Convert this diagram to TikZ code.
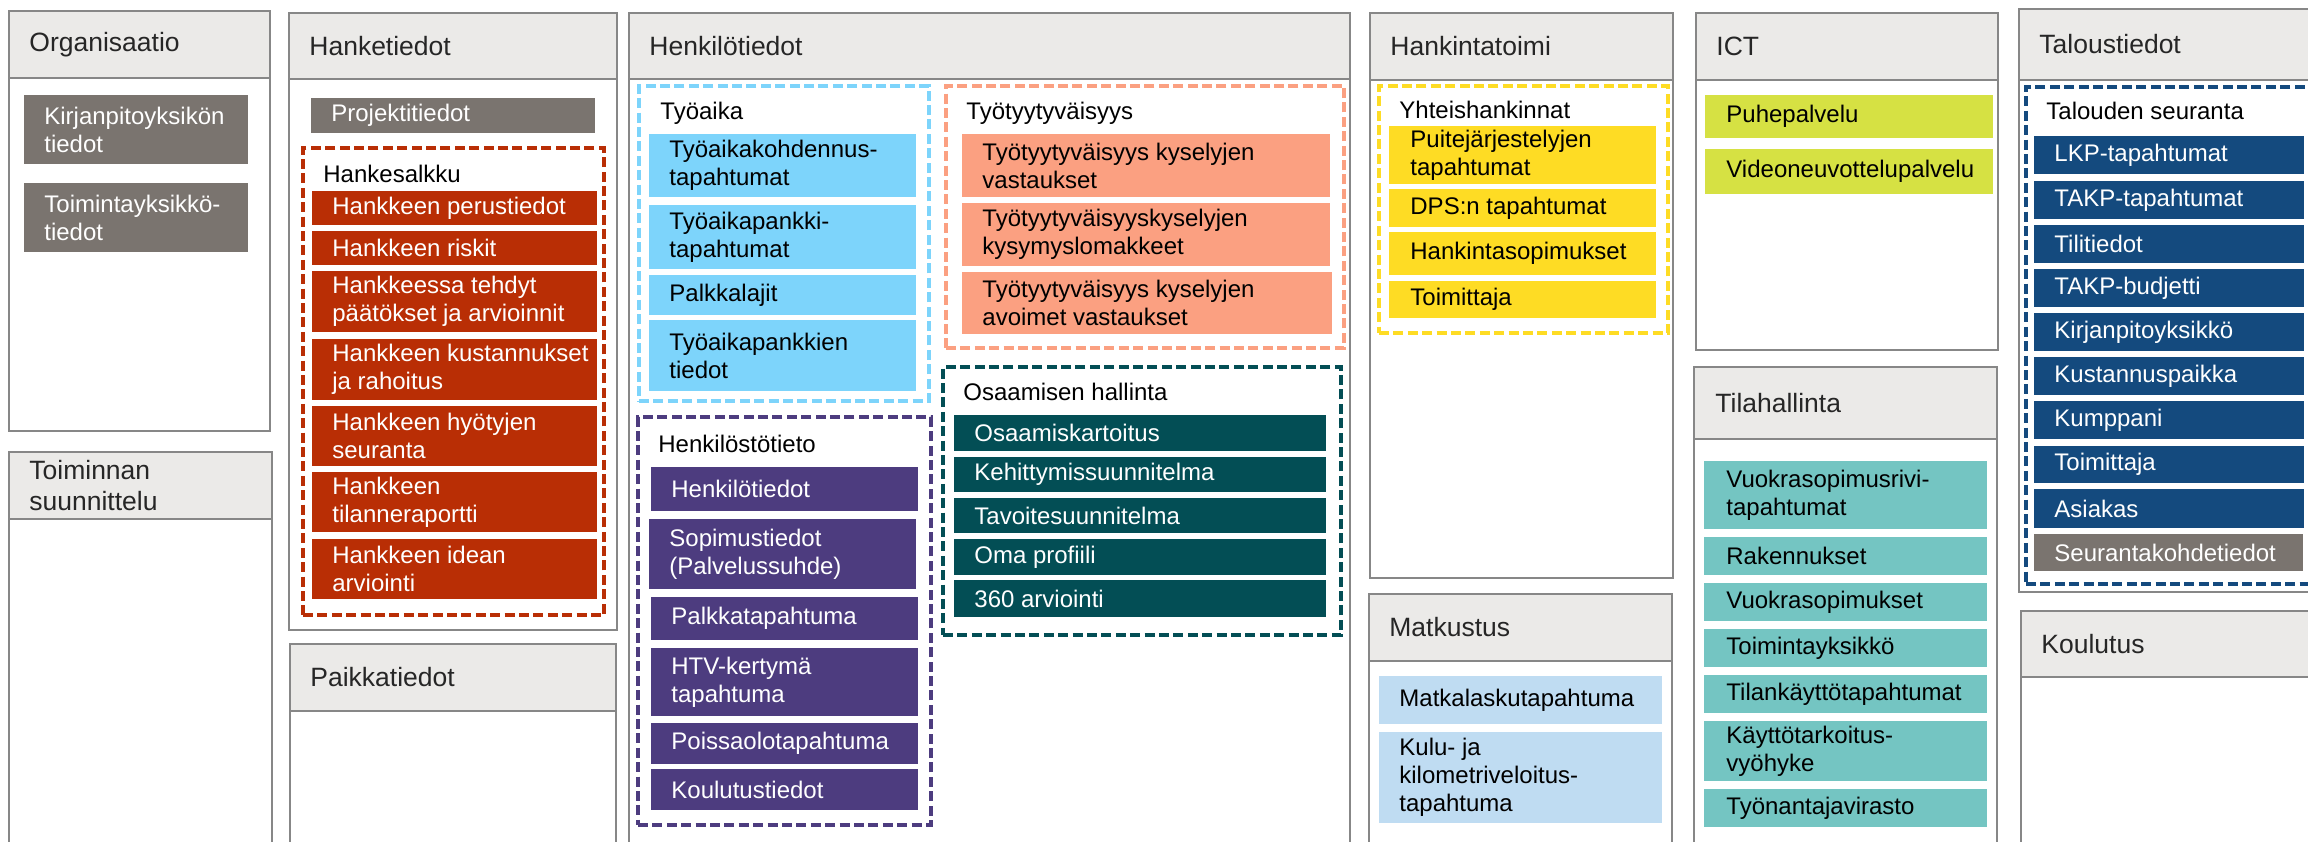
\documentclass[tikz,border=0pt]{standalone}
\usepackage{fontspec}
\setmainfont{Liberation Sans}

\definecolor{bordergrey}{HTML}{878787}
\definecolor{hdrfill}{HTML}{EBEAE8}
\definecolor{hdrtext}{HTML}{262626}
\definecolor{cgrey}{HTML}{7A746F}
\definecolor{cred}{HTML}{B92E05}
\definecolor{clblue}{HTML}{7DD4FB}
\definecolor{csalmon}{HTML}{FBA081}
\definecolor{cdteal}{HTML}{034E55}
\definecolor{cpurple}{HTML}{4D3C7F}
\definecolor{cyellow}{HTML}{FEDC24}
\definecolor{clime}{HTML}{D6E143}
\definecolor{clteal}{HTML}{74C5C2}
\definecolor{cpblue}{HTML}{BFDCF2}
\definecolor{cnavy}{HTML}{144A7E}

\tikzset{
  cR/.style={font=\fontsize{12}{14}\selectfont},
  hR/.style={font=\fontsize{13.25}{15.5}\selectfont, text=hdrtext},
  pbody/.style={draw=bordergrey, line width=1.3pt, fill=white},
  phead/.style={draw=bordergrey, line width=1.3pt, fill=hdrfill},
  grp/.style={draw=#1, line width=1.7pt, dash pattern=on 5pt off 2.2pt},
  wt/.style={text=white},
  bt/.style={text=black},
  lbl/.style={anchor=base west, inner sep=0pt, text=black, font=\fontsize{12}{14}\selectfont},
}

\def\insx{10}
\newcommand\myrect[6]{%
  \pgfmathsetmacro\bw{(#4-#2)*0.5}%
  \pgfmathsetmacro\bh{(#5-#3)*0.5}%
  \node[anchor=north west, outer sep=0pt, inner sep=0pt, minimum width=\bw pt, minimum height=\bh pt, #6] (#1) at (#2,#3) {};}
\newcommand\mybox[8]{%
  \myrect{#1}{#2}{#3}{#4}{#5}{#6}%
  \node[anchor=west, inner sep=0pt, align=left, #7] (#1t) at ([xshift=\insx pt]#1.west) {#8};}

\begin{document}
\begin{tikzpicture}[x=0.5pt,y=-0.5pt]
\useasboundingbox (0,0) rectangle (2308,841);
\clip (0,0) rectangle (2308,841);

% ---------------- column 1: Organisaatio / Toiminnan suunnittelu
\def\insx{10}
\myrect{orgB}{9}{11}{270}{431}{pbody}
\mybox{org}{9}{11}{270}{78}{phead}{hR}{Organisaatio}
\mybox{kirj}{24}{95}{248}{164}{fill=cgrey}{cR,wt}{Kirjanpitoyksikön\\tiedot}
\mybox{toim}{24}{183}{248}{252}{fill=cgrey}{cR,wt}{Toimintayksikkö-\\tiedot}
\myrect{tsuB}{9}{452}{272}{880}{pbody}
\mybox{tsu}{9}{452}{272}{519}{phead}{hR}{Toiminnan\\suunnittelu}

% ---------------- column 2: Hanketiedot / Paikkatiedot
\myrect{hanB}{289}{13}{617}{630}{pbody}
\mybox{han}{289}{13}{617}{79}{phead}{hR}{Hanketiedot}
\mybox{proj}{311}{98}{595}{133}{fill=cgrey}{cR,wt}{Projektitiedot}
\myrect{hsG}{303}{148}{604}{615}{grp=cred}
\node[lbl] (hsL) at (323,182) {Hankesalkku};
\mybox{r1}{312}{191}{597}{225}{fill=cred}{cR,wt}{Hankkeen perustiedot}
\mybox{r2}{312}{231}{597}{265}{fill=cred}{cR,wt}{Hankkeen riskit}
\mybox{r3}{312}{271}{597}{332}{fill=cred}{cR,wt}{Hankkeessa tehdyt\\päätökset ja arvioinnit}
\mybox{r4}{312}{339}{597}{400}{fill=cred}{cR,wt}{Hankkeen kustannukset\\ja rahoitus}
\mybox{r5}{312}{406}{597}{466}{fill=cred}{cR,wt}{Hankkeen hyötyjen\\seuranta}
\mybox{r6}{312}{472}{597}{532}{fill=cred}{cR,wt}{Hankkeen\\tilanneraportti}
\mybox{r7}{312}{539}{597}{599}{fill=cred}{cR,wt}{Hankkeen idean\\arviointi}
\myrect{paiB}{290}{644}{616}{880}{pbody}
\mybox{pai}{290}{644}{616}{711}{phead}{hR}{Paikkatiedot}

% ---------------- column 3: Henkilötiedot
\myrect{henB}{629}{13}{1350}{880}{pbody}
\mybox{hen}{629}{13}{1350}{79}{phead}{hR}{Henkilötiedot}
\myrect{taG}{639}{86}{929}{401}{grp=clblue}
\node[lbl] (taL) at (660,119) {Työaika};
\mybox{b1}{649}{134}{916}{197}{fill=clblue}{cR,bt}{Työaikakohdennus-\\tapahtumat}
\mybox{b2}{649}{205}{916}{269}{fill=clblue}{cR,bt}{Työaikapankki-\\tapahtumat}
\mybox{b3}{649}{275}{916}{315}{fill=clblue}{cR,bt}{Palkkalajit}
\mybox{b4}{649}{320}{916}{391}{fill=clblue}{cR,bt}{Työaikapankkien\\tiedot}
\myrect{tyG}{946}{86}{1344}{348}{grp=csalmon}
\node[lbl] (tyL) at (966,119) {Työtyytyväisyys};
\mybox{s1}{962}{134}{1330}{197}{fill=csalmon}{cR,bt}{Työtyytyväisyys kyselyjen\\vastaukset}
\mybox{s2}{962}{203}{1330}{266}{fill=csalmon}{cR,bt}{Työtyytyväisyyskyselyjen\\kysymyslomakkeet}
\mybox{s3}{962}{272}{1332}{334}{fill=csalmon}{cR,bt}{Työtyytyväisyys kyselyjen\\avoimet vastaukset}
\myrect{osG}{943}{367}{1341}{635}{grp=cdteal}
\node[lbl] (osL) at (963,400) {Osaamisen hallinta};
\mybox{t1}{954}{415}{1326}{451}{fill=cdteal}{cR,wt}{Osaamiskartoitus}
\mybox{t2}{954}{457}{1326}{492}{fill=cdteal}{cR,wt}{Kehittymissuunnitelma}
\mybox{t3}{954}{498}{1326}{533}{fill=cdteal}{cR,wt}{Tavoitesuunnitelma}
\mybox{t4}{954}{539}{1326}{575}{fill=cdteal}{cR,wt}{Oma profiili}
\mybox{t5}{954}{580}{1326}{617}{fill=cdteal}{cR,wt}{360 arviointi}
\myrect{hsG2}{638}{417}{931}{825}{grp=cpurple}
\node[lbl] (hkL) at (658,452) {Henkilöstötieto};
\mybox{p1}{651}{467}{918}{511}{fill=cpurple}{cR,wt}{Henkilötiedot}
\mybox{p2}{649}{519}{916}{589}{fill=cpurple}{cR,wt}{Sopimustiedot\\(Palvelussuhde)}
\mybox{p3}{651}{597}{918}{640}{fill=cpurple}{cR,wt}{Palkkatapahtuma}
\mybox{p4}{651}{648}{918}{716}{fill=cpurple}{cR,wt}{HTV-kertymä\\tapahtuma}
\mybox{p5}{651}{723}{918}{764}{fill=cpurple}{cR,wt}{Poissaolotapahtuma}
\mybox{p6}{651}{769}{918}{810}{fill=cpurple}{cR,wt}{Koulutustiedot}

% ---------------- column 4: Hankintatoimi / Matkustus
\myrect{hkB}{1370}{13}{1673}{578}{pbody}
\mybox{hk}{1370}{13}{1673}{80}{phead}{hR}{Hankintatoimi}
\myrect{yhG}{1379}{86}{1668}{333}{grp=cyellow}
\node[lbl] (yhL) at (1399,118) {Yhteishankinnat};
\def\insx{10.5}
\mybox{y1}{1389}{126}{1656}{184}{fill=cyellow}{cR,bt}{Puitejärjestelyjen\\tapahtumat}
\mybox{y2}{1389}{189}{1656}{227}{fill=cyellow}{cR,bt}{DPS:n tapahtumat}
\mybox{y3}{1389}{232}{1656}{275}{fill=cyellow}{cR,bt}{Hankintasopimukset}
\mybox{y4}{1389}{281}{1656}{318}{fill=cyellow}{cR,bt}{Toimittaja}
\def\insx{10}
\myrect{maB}{1369}{594}{1672}{880}{pbody}
\mybox{ma}{1369}{594}{1672}{661}{phead}{hR}{Matkustus}
\mybox{m1}{1379}{676}{1662}{724}{fill=cpblue}{cR,bt}{Matkalaskutapahtuma}
\mybox{m2}{1379}{732}{1662}{823}{fill=cpblue}{cR,bt}{Kulu- ja\\kilometriveloitus-\\tapahtuma}

% ---------------- column 5: ICT / Tilahallinta
\myrect{ictB}{1696}{13}{1998}{350}{pbody}
\mybox{ict}{1696}{13}{1998}{80}{phead}{hR}{ICT}
\def\insx{10.5}
\mybox{g1}{1705}{95}{1993}{138}{fill=clime}{cR,bt}{Puhepalvelu}
\mybox{g2}{1705}{149}{1993}{194}{fill=clime}{cR,bt}{Videoneuvottelupalvelu}
\myrect{tlB}{1694}{367}{1997}{880}{pbody}
\mybox{tl}{1694}{367}{1997}{439}{phead}{hR}{Tilahallinta}
\def\insx{11}
\mybox{q1}{1704}{461}{1987}{529}{fill=clteal}{cR,bt}{Vuokrasopimusrivi-\\tapahtumat}
\mybox{q2}{1704}{537}{1987}{575}{fill=clteal}{cR,bt}{Rakennukset}
\mybox{q3}{1704}{583}{1987}{621}{fill=clteal}{cR,bt}{Vuokrasopimukset}
\mybox{q4}{1704}{629}{1987}{667}{fill=clteal}{cR,bt}{Toimintayksikkö}
\mybox{q5}{1704}{675}{1987}{713}{fill=clteal}{cR,bt}{Tilankäyttötapahtumat}
\mybox{q6}{1704}{721}{1987}{781}{fill=clteal}{cR,bt}{Käyttötarkoitus-\\vyöhyke}
\mybox{q7}{1704}{789}{1987}{827}{fill=clteal}{cR,bt}{Työnantajavirasto}

% ---------------- column 6: Taloustiedot / Koulutus
\def\insx{10}
\myrect{taloB}{2019}{9}{2330}{592}{pbody}
\mybox{talo}{2019}{9}{2330}{80}{phead}{hR}{Taloustiedot}
\myrect{tsG}{2026}{87}{2320}{584}{grp=cnavy}
\node[lbl] (tsL) at (2046,119) {Talouden seuranta};
\mybox{n1}{2034}{136}{2304}{174}{fill=cnavy}{cR,wt}{LKP-tapahtumat}
\mybox{n2}{2034}{181}{2304}{219}{fill=cnavy}{cR,wt}{TAKP-tapahtumat}
\mybox{n3}{2034}{225}{2304}{263}{fill=cnavy}{cR,wt}{Tilitiedot}
\mybox{n4}{2034}{269}{2304}{307}{fill=cnavy}{cR,wt}{TAKP-budjetti}
\mybox{n5}{2034}{313}{2304}{351}{fill=cnavy}{cR,wt}{Kirjanpitoyksikkö}
\mybox{n6}{2034}{357}{2304}{395}{fill=cnavy}{cR,wt}{Kustannuspaikka}
\mybox{n7}{2034}{401}{2304}{439}{fill=cnavy}{cR,wt}{Kumppani}
\mybox{n8}{2034}{446}{2304}{483}{fill=cnavy}{cR,wt}{Toimittaja}
\mybox{n9}{2034}{489}{2304}{528}{fill=cnavy}{cR,wt}{Asiakas}
\mybox{n10}{2034}{534}{2303}{571}{fill=cgrey}{cR,wt}{Seurantakohdetiedot}
\myrect{kouB}{2021}{611}{2330}{880}{pbody}
\mybox{kou}{2021}{611}{2330}{677}{phead}{hR}{Koulutus}
\end{tikzpicture}
\end{document}
